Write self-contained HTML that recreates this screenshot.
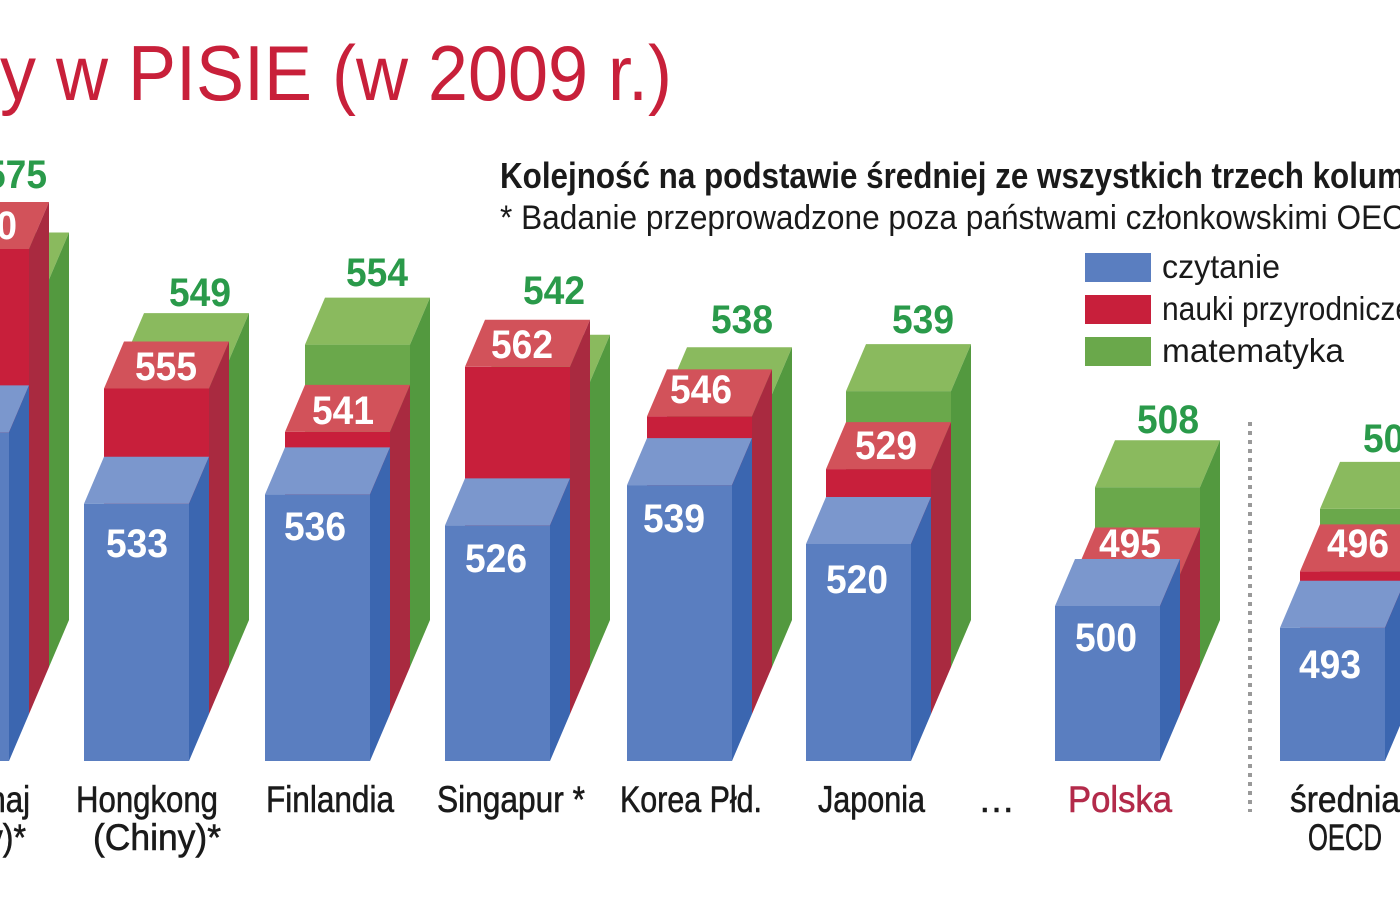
<!DOCTYPE html>
<html><head><meta charset="utf-8"><style>
html,body{margin:0;padding:0;background:#fff;width:1400px;height:900px;overflow:hidden}
svg{display:block}
.v{font-family:"Liberation Sans",sans-serif;font-weight:bold;font-size:40px;text-anchor:middle}
.w{fill:#fff}.g{fill:#2a9a4a}
.c{font-family:"Liberation Sans",sans-serif;font-size:37px;fill:#1a1a1a;stroke:#1a1a1a;stroke-width:0.6}
</style></head><body>
<svg width="1400" height="900" viewBox="0 0 1400 900" xmlns="http://www.w3.org/2000/svg">
<defs>
<style>
.bf{fill:#5a7ec0}.bt{fill:#7b97cd}.bs{fill:#3b66b0}
.rf{fill:#c81f3b}.rt{fill:#d2525a}.rs{fill:#a92a40}
.gf{fill:#6aa84b}.gt{fill:#8aba5e}.gs{fill:#53993f}
</style>
</defs>
<text x="0" y="100" font-family="Liberation Sans,sans-serif" font-size="78" fill="#c8203a" textLength="672" lengthAdjust="spacingAndGlyphs">y w PISIE (w 2009 r.)</text>
<text x="500" y="188" font-family="Liberation Sans,sans-serif" font-weight="bold" font-size="36" fill="#1a1a1a" textLength="905" lengthAdjust="spacingAndGlyphs">Kolejność na podstawie średniej ze wszystkich trzech kolum</text>
<text x="500" y="229" font-family="Liberation Sans,sans-serif" font-size="34" fill="#1a1a1a" textLength="905" lengthAdjust="spacingAndGlyphs">* Badanie przeprowadzone poza państwami członkowskimi OEC</text>
<rect x="1085" y="253" width="66" height="29" fill="#5a7ec0"/>
<rect x="1085" y="295" width="66" height="29" fill="#c81f3b"/>
<rect x="1085" y="337" width="66" height="29" fill="#6aa84b"/>
<g font-family="Liberation Sans,sans-serif" font-size="33" fill="#1a1a1a">
<text x="1162" y="278" textLength="118" lengthAdjust="spacingAndGlyphs">czytanie</text>
<text x="1162" y="320" textLength="250" lengthAdjust="spacingAndGlyphs">nauki przyrodnicze</text>
<text x="1162" y="362" textLength="182" lengthAdjust="spacingAndGlyphs">matematyka</text>
</g>

<g transform="translate(-56,0)"><rect class="gf" x="0" y="279.5" width="105" height="387.5"/><polygon class="gt" points="0,279.5 105,279.5 125,232.5 20,232.5"/><polygon class="gs" points="105,279.5 125,232.5 125,620 105,667"/></g>
<g transform="translate(-76,0)"><rect class="rf" x="0" y="249" width="105" height="465"/><polygon class="rt" points="0,249 105,249 125,202 20,202"/><polygon class="rs" points="105,249 125,202 125,667 105,714"/></g>
<g transform="translate(-96,0)"><rect class="bf" x="0" y="432.4" width="105" height="328.6"/><polygon class="bt" points="0,432.4 105,432.4 125,385.4 20,385.4"/><polygon class="bs" points="105,432.4 125,385.4 125,714 105,761"/></g>
<g transform="translate(124,0)"><rect class="gf" x="0" y="360.1" width="105" height="306.9"/><polygon class="gt" points="0,360.1 105,360.1 125,313.1 20,313.1"/><polygon class="gs" points="105,360.1 125,313.1 125,620 105,667"/></g>
<g transform="translate(104,0)"><rect class="rf" x="0" y="388.5" width="105" height="325.5"/><polygon class="rt" points="0,388.5 105,388.5 125,341.5 20,341.5"/><polygon class="rs" points="105,388.5 125,341.5 125,667 105,714"/></g>
<g transform="translate(84,0)"><rect class="bf" x="0" y="503.7" width="105" height="257.3"/><polygon class="bt" points="0,503.7 105,503.7 125,456.7 20,456.7"/><polygon class="bs" points="105,503.7 125,456.7 125,714 105,761"/></g>
<g transform="translate(305,0)"><rect class="gf" x="0" y="344.6" width="105" height="322.4"/><polygon class="gt" points="0,344.6 105,344.6 125,297.6 20,297.6"/><polygon class="gs" points="105,344.6 125,297.6 125,620 105,667"/></g>
<g transform="translate(285,0)"><rect class="rf" x="0" y="431.9" width="105" height="282.1"/><polygon class="rt" points="0,431.9 105,431.9 125,384.9 20,384.9"/><polygon class="rs" points="105,431.9 125,384.9 125,667 105,714"/></g>
<g transform="translate(265,0)"><rect class="bf" x="0" y="494.4" width="105" height="266.6"/><polygon class="bt" points="0,494.4 105,494.4 125,447.4 20,447.4"/><polygon class="bs" points="105,494.4 125,447.4 125,714 105,761"/></g>
<g transform="translate(485,0)"><rect class="gf" x="0" y="381.8" width="105" height="285.2"/><polygon class="gt" points="0,381.8 105,381.8 125,334.8 20,334.8"/><polygon class="gs" points="105,381.8 125,334.8 125,620 105,667"/></g>
<g transform="translate(465,0)"><rect class="rf" x="0" y="366.8" width="105" height="347.2"/><polygon class="rt" points="0,366.8 105,366.8 125,319.8 20,319.8"/><polygon class="rs" points="105,366.8 125,319.8 125,667 105,714"/></g>
<g transform="translate(445,0)"><rect class="bf" x="0" y="525.4" width="105" height="235.6"/><polygon class="bt" points="0,525.4 105,525.4 125,478.4 20,478.4"/><polygon class="bs" points="105,525.4 125,478.4 125,714 105,761"/></g>
<g transform="translate(667,0)"><rect class="gf" x="0" y="394.2" width="105" height="272.8"/><polygon class="gt" points="0,394.2 105,394.2 125,347.2 20,347.2"/><polygon class="gs" points="105,394.2 125,347.2 125,620 105,667"/></g>
<g transform="translate(647,0)"><rect class="rf" x="0" y="416.4" width="105" height="297.6"/><polygon class="rt" points="0,416.4 105,416.4 125,369.4 20,369.4"/><polygon class="rs" points="105,416.4 125,369.4 125,667 105,714"/></g>
<g transform="translate(627,0)"><rect class="bf" x="0" y="485.1" width="105" height="275.9"/><polygon class="bt" points="0,485.1 105,485.1 125,438.1 20,438.1"/><polygon class="bs" points="105,485.1 125,438.1 125,714 105,761"/></g>
<g transform="translate(846,0)"><rect class="gf" x="0" y="391.1" width="105" height="275.9"/><polygon class="gt" points="0,391.1 105,391.1 125,344.1 20,344.1"/><polygon class="gs" points="105,391.1 125,344.1 125,620 105,667"/></g>
<g transform="translate(826,0)"><rect class="rf" x="0" y="469.1" width="105" height="244.9"/><polygon class="rt" points="0,469.1 105,469.1 125,422.1 20,422.1"/><polygon class="rs" points="105,469.1 125,422.1 125,667 105,714"/></g>
<g transform="translate(806,0)"><rect class="bf" x="0" y="544" width="105" height="217"/><polygon class="bt" points="0,544 105,544 125,497 20,497"/><polygon class="bs" points="105,544 125,497 125,714 105,761"/></g>
<g transform="translate(1095,0)"><rect class="gf" x="0" y="487.2" width="105" height="179.8"/><polygon class="gt" points="0,487.2 105,487.2 125,440.2 20,440.2"/><polygon class="gs" points="105,487.2 125,440.2 125,620 105,667"/></g>
<g transform="translate(1075,0)"><rect class="rf" x="0" y="574.5" width="105" height="139.5"/><polygon class="rt" points="0,574.5 105,574.5 125,527.5 20,527.5"/><polygon class="rs" points="105,574.5 125,527.5 125,667 105,714"/></g>
<g transform="translate(1055,0)"><rect class="bf" x="0" y="606" width="105" height="155"/><polygon class="bt" points="0,606 105,606 125,559 20,559"/><polygon class="bs" points="105,606 125,559 125,714 105,761"/></g>
<g transform="translate(1320,0)"><rect class="gf" x="0" y="508.9" width="105" height="158.1"/><polygon class="gt" points="0,508.9 105,508.9 125,461.9 20,461.9"/><polygon class="gs" points="105,508.9 125,461.9 125,620 105,667"/></g>
<g transform="translate(1300,0)"><rect class="rf" x="0" y="571.4" width="105" height="142.6"/><polygon class="rt" points="0,571.4 105,571.4 125,524.4 20,524.4"/><polygon class="rs" points="105,571.4 125,524.4 125,667 105,714"/></g>
<g transform="translate(1280,0)"><rect class="bf" x="0" y="627.7" width="105" height="133.3"/><polygon class="bt" points="0,627.7 105,627.7 125,580.7 20,580.7"/><polygon class="bs" points="105,627.7 125,580.7 125,714 105,761"/></g>

<line x1="1250" y1="422" x2="1250" y2="812" stroke="#999" stroke-width="4" stroke-dasharray="4,5"/>

<text class="v w" x="-14" y="239" textLength="62" lengthAdjust="spacingAndGlyphs">600</text>
<text class="v g" x="16" y="188" textLength="62" lengthAdjust="spacingAndGlyphs">575</text>
<text class="v w" x="137" y="557" textLength="62" lengthAdjust="spacingAndGlyphs">533</text>
<text class="v w" x="166" y="380" textLength="62" lengthAdjust="spacingAndGlyphs">555</text>
<text class="v g" x="200" y="306" textLength="62" lengthAdjust="spacingAndGlyphs">549</text>
<text class="v w" x="315" y="540" textLength="62" lengthAdjust="spacingAndGlyphs">536</text>
<text class="v w" x="343" y="424" textLength="62" lengthAdjust="spacingAndGlyphs">541</text>
<text class="v g" x="377" y="286" textLength="62" lengthAdjust="spacingAndGlyphs">554</text>
<text class="v w" x="496" y="572" textLength="62" lengthAdjust="spacingAndGlyphs">526</text>
<text class="v w" x="522" y="358" textLength="62" lengthAdjust="spacingAndGlyphs">562</text>
<text class="v g" x="554" y="304" textLength="62" lengthAdjust="spacingAndGlyphs">542</text>
<text class="v w" x="674" y="532" textLength="62" lengthAdjust="spacingAndGlyphs">539</text>
<text class="v w" x="701" y="403" textLength="62" lengthAdjust="spacingAndGlyphs">546</text>
<text class="v g" x="742" y="333" textLength="62" lengthAdjust="spacingAndGlyphs">538</text>
<text class="v w" x="857" y="593" textLength="62" lengthAdjust="spacingAndGlyphs">520</text>
<text class="v w" x="886" y="459" textLength="62" lengthAdjust="spacingAndGlyphs">529</text>
<text class="v g" x="923" y="333" textLength="62" lengthAdjust="spacingAndGlyphs">539</text>
<text class="v w" x="1106" y="651" textLength="62" lengthAdjust="spacingAndGlyphs">500</text>
<text class="v w" x="1130" y="557" textLength="62" lengthAdjust="spacingAndGlyphs">495</text>
<text class="v g" x="1168" y="433" textLength="62" lengthAdjust="spacingAndGlyphs">508</text>
<text class="v w" x="1330" y="678" textLength="62" lengthAdjust="spacingAndGlyphs">493</text>
<text class="v w" x="1358" y="557" textLength="62" lengthAdjust="spacingAndGlyphs">496</text>
<text class="v g" x="1394" y="452" textLength="62" lengthAdjust="spacingAndGlyphs">501</text>

<text class="c" x="-100" y="812" textLength="130" lengthAdjust="spacingAndGlyphs">Szanghaj</text>
<text class="c" x="-90" y="850" textLength="116" lengthAdjust="spacingAndGlyphs">(Chiny)*</text>
<text class="c" x="76" y="812" textLength="142" lengthAdjust="spacingAndGlyphs">Hongkong</text>
<text class="c" x="93" y="850" textLength="128" lengthAdjust="spacingAndGlyphs">(Chiny)*</text>
<text class="c" x="266" y="812" textLength="128" lengthAdjust="spacingAndGlyphs">Finlandia</text>
<text class="c" x="437" y="812" textLength="148" lengthAdjust="spacingAndGlyphs">Singapur *</text>
<text class="c" x="620" y="812" textLength="142" lengthAdjust="spacingAndGlyphs">Korea Płd.</text>
<text class="c" x="818" y="812" textLength="107" lengthAdjust="spacingAndGlyphs">Japonia</text>
<text class="c" x="978" y="812" textLength="37" lengthAdjust="spacingAndGlyphs">…</text>
<text class="c" x="1068" y="812" textLength="104" lengthAdjust="spacingAndGlyphs" style="fill:#b32a4a;stroke:#b32a4a">Polska</text>
<text class="c" x="1290" y="812" textLength="110" lengthAdjust="spacingAndGlyphs">średnia</text>
<text class="c" x="1308" y="850" textLength="74" lengthAdjust="spacingAndGlyphs">OECD</text>
</svg>
</body></html>
